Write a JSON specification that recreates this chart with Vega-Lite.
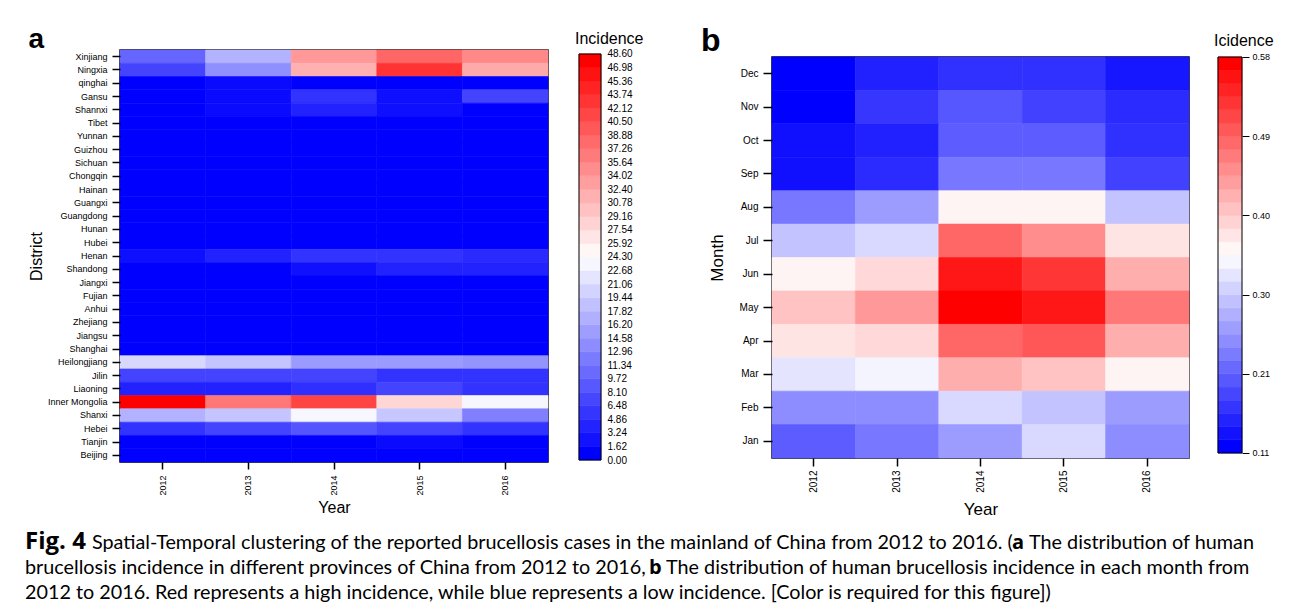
{
  "$schema": "https://vega.github.io/schema/vega-lite/v6.json",
  "background": "white",
  "padding": {"left": 25, "top": 24, "right": 5, "bottom": 2},
  "datasets": {
    "prov": [
      {"district": "Xinjiang", "year": "2012", "value": 9.7}, {"district": "Xinjiang", "year": "2013", "value": 17.0}, {"district": "Xinjiang", "year": "2014", "value": 34.0}, {"district": "Xinjiang", "year": "2015", "value": 38.9}, {"district": "Xinjiang", "year": "2016", "value": 35.6},
      {"district": "Ningxia", "year": "2012", "value": 6.5}, {"district": "Ningxia", "year": "2013", "value": 13.6}, {"district": "Ningxia", "year": "2014", "value": 31.8}, {"district": "Ningxia", "year": "2015", "value": 43.7}, {"district": "Ningxia", "year": "2016", "value": 32.4},
      {"district": "qinghai", "year": "2012", "value": 0}, {"district": "qinghai", "year": "2013", "value": 1.0}, {"district": "qinghai", "year": "2014", "value": 0}, {"district": "qinghai", "year": "2015", "value": 0}, {"district": "qinghai", "year": "2016", "value": 0},
      {"district": "Gansu", "year": "2012", "value": 0}, {"district": "Gansu", "year": "2013", "value": 1.0}, {"district": "Gansu", "year": "2014", "value": 4.9}, {"district": "Gansu", "year": "2015", "value": 1.4}, {"district": "Gansu", "year": "2016", "value": 6.5},
      {"district": "Shannxi", "year": "2012", "value": 0}, {"district": "Shannxi", "year": "2013", "value": 1.0}, {"district": "Shannxi", "year": "2014", "value": 3.2}, {"district": "Shannxi", "year": "2015", "value": 1.4}, {"district": "Shannxi", "year": "2016", "value": 0},
      {"district": "Tibet", "year": "2012", "value": 0}, {"district": "Tibet", "year": "2013", "value": 0}, {"district": "Tibet", "year": "2014", "value": 0}, {"district": "Tibet", "year": "2015", "value": 0}, {"district": "Tibet", "year": "2016", "value": 0},
      {"district": "Yunnan", "year": "2012", "value": 0}, {"district": "Yunnan", "year": "2013", "value": 0}, {"district": "Yunnan", "year": "2014", "value": 0}, {"district": "Yunnan", "year": "2015", "value": 0}, {"district": "Yunnan", "year": "2016", "value": 0},
      {"district": "Guizhou", "year": "2012", "value": 0}, {"district": "Guizhou", "year": "2013", "value": 0}, {"district": "Guizhou", "year": "2014", "value": 0}, {"district": "Guizhou", "year": "2015", "value": 0}, {"district": "Guizhou", "year": "2016", "value": 0},
      {"district": "Sichuan", "year": "2012", "value": 0}, {"district": "Sichuan", "year": "2013", "value": 0}, {"district": "Sichuan", "year": "2014", "value": 0}, {"district": "Sichuan", "year": "2015", "value": 0}, {"district": "Sichuan", "year": "2016", "value": 0},
      {"district": "Chongqin", "year": "2012", "value": 0}, {"district": "Chongqin", "year": "2013", "value": 0}, {"district": "Chongqin", "year": "2014", "value": 0}, {"district": "Chongqin", "year": "2015", "value": 0}, {"district": "Chongqin", "year": "2016", "value": 0},
      {"district": "Hainan", "year": "2012", "value": 0}, {"district": "Hainan", "year": "2013", "value": 0}, {"district": "Hainan", "year": "2014", "value": 0}, {"district": "Hainan", "year": "2015", "value": 0}, {"district": "Hainan", "year": "2016", "value": 0},
      {"district": "Guangxi", "year": "2012", "value": 0}, {"district": "Guangxi", "year": "2013", "value": 0}, {"district": "Guangxi", "year": "2014", "value": 0}, {"district": "Guangxi", "year": "2015", "value": 0}, {"district": "Guangxi", "year": "2016", "value": 0},
      {"district": "Guangdong", "year": "2012", "value": 0}, {"district": "Guangdong", "year": "2013", "value": 0}, {"district": "Guangdong", "year": "2014", "value": 0}, {"district": "Guangdong", "year": "2015", "value": 0}, {"district": "Guangdong", "year": "2016", "value": 0},
      {"district": "Hunan", "year": "2012", "value": 0}, {"district": "Hunan", "year": "2013", "value": 0}, {"district": "Hunan", "year": "2014", "value": 0}, {"district": "Hunan", "year": "2015", "value": 0}, {"district": "Hunan", "year": "2016", "value": 0},
      {"district": "Hubei", "year": "2012", "value": 0}, {"district": "Hubei", "year": "2013", "value": 0}, {"district": "Hubei", "year": "2014", "value": 0}, {"district": "Hubei", "year": "2015", "value": 0}, {"district": "Hubei", "year": "2016", "value": 0},
      {"district": "Henan", "year": "2012", "value": 1.4}, {"district": "Henan", "year": "2013", "value": 3.2}, {"district": "Henan", "year": "2014", "value": 4.9}, {"district": "Henan", "year": "2015", "value": 4.9}, {"district": "Henan", "year": "2016", "value": 4.0},
      {"district": "Shandong", "year": "2012", "value": 0}, {"district": "Shandong", "year": "2013", "value": 0}, {"district": "Shandong", "year": "2014", "value": 1.5}, {"district": "Shandong", "year": "2015", "value": 3.2}, {"district": "Shandong", "year": "2016", "value": 3.2},
      {"district": "Jiangxi", "year": "2012", "value": 0}, {"district": "Jiangxi", "year": "2013", "value": 0}, {"district": "Jiangxi", "year": "2014", "value": 0}, {"district": "Jiangxi", "year": "2015", "value": 0}, {"district": "Jiangxi", "year": "2016", "value": 0},
      {"district": "Fujian", "year": "2012", "value": 0}, {"district": "Fujian", "year": "2013", "value": 0}, {"district": "Fujian", "year": "2014", "value": 0}, {"district": "Fujian", "year": "2015", "value": 0}, {"district": "Fujian", "year": "2016", "value": 0},
      {"district": "Anhui", "year": "2012", "value": 0}, {"district": "Anhui", "year": "2013", "value": 0}, {"district": "Anhui", "year": "2014", "value": 0}, {"district": "Anhui", "year": "2015", "value": 0}, {"district": "Anhui", "year": "2016", "value": 0},
      {"district": "Zhejiang", "year": "2012", "value": 0}, {"district": "Zhejiang", "year": "2013", "value": 0}, {"district": "Zhejiang", "year": "2014", "value": 0}, {"district": "Zhejiang", "year": "2015", "value": 0}, {"district": "Zhejiang", "year": "2016", "value": 0},
      {"district": "Jiangsu", "year": "2012", "value": 0}, {"district": "Jiangsu", "year": "2013", "value": 0}, {"district": "Jiangsu", "year": "2014", "value": 0}, {"district": "Jiangsu", "year": "2015", "value": 0}, {"district": "Jiangsu", "year": "2016", "value": 0},
      {"district": "Shanghai", "year": "2012", "value": 0}, {"district": "Shanghai", "year": "2013", "value": 0}, {"district": "Shanghai", "year": "2014", "value": 0}, {"district": "Shanghai", "year": "2015", "value": 0}, {"district": "Shanghai", "year": "2016", "value": 0},
      {"district": "Heilongjiang", "year": "2012", "value": 20.6}, {"district": "Heilongjiang", "year": "2013", "value": 18.7}, {"district": "Heilongjiang", "year": "2014", "value": 14.8}, {"district": "Heilongjiang", "year": "2015", "value": 14.8}, {"district": "Heilongjiang", "year": "2016", "value": 14.1},
      {"district": "Jilin", "year": "2012", "value": 6.5}, {"district": "Jilin", "year": "2013", "value": 6.5}, {"district": "Jilin", "year": "2014", "value": 6.5}, {"district": "Jilin", "year": "2015", "value": 4.9}, {"district": "Jilin", "year": "2016", "value": 4.9},
      {"district": "Liaoning", "year": "2012", "value": 3.2}, {"district": "Liaoning", "year": "2013", "value": 3.2}, {"district": "Liaoning", "year": "2014", "value": 4.5}, {"district": "Liaoning", "year": "2015", "value": 6.5}, {"district": "Liaoning", "year": "2016", "value": 4.9},
      {"district": "Inner Mongolia", "year": "2012", "value": 48.6}, {"district": "Inner Mongolia", "year": "2013", "value": 37.3}, {"district": "Inner Mongolia", "year": "2014", "value": 42.1}, {"district": "Inner Mongolia", "year": "2015", "value": 28.2}, {"district": "Inner Mongolia", "year": "2016", "value": 23.4},
      {"district": "Shanxi", "year": "2012", "value": 17.0}, {"district": "Shanxi", "year": "2013", "value": 18.7}, {"district": "Shanxi", "year": "2014", "value": 23.5}, {"district": "Shanxi", "year": "2015", "value": 19.0}, {"district": "Shanxi", "year": "2016", "value": 12.2},
      {"district": "Hebei", "year": "2012", "value": 4.9}, {"district": "Hebei", "year": "2013", "value": 6.5}, {"district": "Hebei", "year": "2014", "value": 8.1}, {"district": "Hebei", "year": "2015", "value": 6.5}, {"district": "Hebei", "year": "2016", "value": 4.9},
      {"district": "Tianjin", "year": "2012", "value": 0}, {"district": "Tianjin", "year": "2013", "value": 0}, {"district": "Tianjin", "year": "2014", "value": 0}, {"district": "Tianjin", "year": "2015", "value": 1.0}, {"district": "Tianjin", "year": "2016", "value": 0},
      {"district": "Beijing", "year": "2012", "value": 0}, {"district": "Beijing", "year": "2013", "value": 0}, {"district": "Beijing", "year": "2014", "value": 0}, {"district": "Beijing", "year": "2015", "value": 0}, {"district": "Beijing", "year": "2016", "value": 0}
    ],
    "month": [
      {"month": "Dec", "year": "2012", "value": 0.11}, {"month": "Dec", "year": "2013", "value": 0.14}, {"month": "Dec", "year": "2014", "value": 0.155}, {"month": "Dec", "year": "2015", "value": 0.155}, {"month": "Dec", "year": "2016", "value": 0.13},
      {"month": "Nov", "year": "2012", "value": 0.11}, {"month": "Nov", "year": "2013", "value": 0.16}, {"month": "Nov", "year": "2014", "value": 0.19}, {"month": "Nov", "year": "2015", "value": 0.17}, {"month": "Nov", "year": "2016", "value": 0.15},
      {"month": "Oct", "year": "2012", "value": 0.125}, {"month": "Oct", "year": "2013", "value": 0.14}, {"month": "Oct", "year": "2014", "value": 0.195}, {"month": "Oct", "year": "2015", "value": 0.195}, {"month": "Oct", "year": "2016", "value": 0.155},
      {"month": "Sep", "year": "2012", "value": 0.125}, {"month": "Sep", "year": "2013", "value": 0.15}, {"month": "Sep", "year": "2014", "value": 0.22}, {"month": "Sep", "year": "2015", "value": 0.22}, {"month": "Sep", "year": "2016", "value": 0.17},
      {"month": "Aug", "year": "2012", "value": 0.22}, {"month": "Aug", "year": "2013", "value": 0.254}, {"month": "Aug", "year": "2014", "value": 0.355}, {"month": "Aug", "year": "2015", "value": 0.355}, {"month": "Aug", "year": "2016", "value": 0.29},
      {"month": "Jul", "year": "2012", "value": 0.29}, {"month": "Jul", "year": "2013", "value": 0.31}, {"month": "Jul", "year": "2014", "value": 0.486}, {"month": "Jul", "year": "2015", "value": 0.45}, {"month": "Jul", "year": "2016", "value": 0.37},
      {"month": "Jun", "year": "2012", "value": 0.355}, {"month": "Jun", "year": "2013", "value": 0.38}, {"month": "Jun", "year": "2014", "value": 0.56}, {"month": "Jun", "year": "2015", "value": 0.53}, {"month": "Jun", "year": "2016", "value": 0.42},
      {"month": "May", "year": "2012", "value": 0.40}, {"month": "May", "year": "2013", "value": 0.44}, {"month": "May", "year": "2014", "value": 0.58}, {"month": "May", "year": "2015", "value": 0.56}, {"month": "May", "year": "2016", "value": 0.47},
      {"month": "Apr", "year": "2012", "value": 0.37}, {"month": "Apr", "year": "2013", "value": 0.38}, {"month": "Apr", "year": "2014", "value": 0.486}, {"month": "Apr", "year": "2015", "value": 0.50}, {"month": "Apr", "year": "2016", "value": 0.42},
      {"month": "Mar", "year": "2012", "value": 0.32}, {"month": "Mar", "year": "2013", "value": 0.335}, {"month": "Mar", "year": "2014", "value": 0.42}, {"month": "Mar", "year": "2015", "value": 0.40}, {"month": "Mar", "year": "2016", "value": 0.355},
      {"month": "Feb", "year": "2012", "value": 0.24}, {"month": "Feb", "year": "2013", "value": 0.24}, {"month": "Feb", "year": "2014", "value": 0.31}, {"month": "Feb", "year": "2015", "value": 0.29}, {"month": "Feb", "year": "2016", "value": 0.254},
      {"month": "Jan", "year": "2012", "value": 0.195}, {"month": "Jan", "year": "2013", "value": 0.22}, {"month": "Jan", "year": "2014", "value": 0.254}, {"month": "Jan", "year": "2015", "value": 0.31}, {"month": "Jan", "year": "2016", "value": 0.24}
    ],
    "legA": [
      {"lo": 0, "hi": 1.62, "level": 0}, {"lo": 1.62, "hi": 3.24, "level": 1.676}, {"lo": 3.24, "hi": 4.86, "level": 3.352}, {"lo": 4.86, "hi": 6.48, "level": 5.028}, {"lo": 6.48, "hi": 8.1, "level": 6.703},
      {"lo": 8.1, "hi": 9.72, "level": 8.379}, {"lo": 9.72, "hi": 11.34, "level": 10.055}, {"lo": 11.34, "hi": 12.96, "level": 11.731}, {"lo": 12.96, "hi": 14.58, "level": 13.407}, {"lo": 14.58, "hi": 16.2, "level": 15.083},
      {"lo": 16.2, "hi": 17.82, "level": 16.759}, {"lo": 17.82, "hi": 19.44, "level": 18.434}, {"lo": 19.44, "hi": 21.06, "level": 20.11}, {"lo": 21.06, "hi": 22.68, "level": 21.786}, {"lo": 22.68, "hi": 24.3, "level": 23.462},
      {"lo": 24.3, "hi": 25.92, "level": 25.138}, {"lo": 25.92, "hi": 27.54, "level": 26.814}, {"lo": 27.54, "hi": 29.16, "level": 28.49}, {"lo": 29.16, "hi": 30.78, "level": 30.166}, {"lo": 30.78, "hi": 32.4, "level": 31.841},
      {"lo": 32.4, "hi": 34.02, "level": 33.517}, {"lo": 34.02, "hi": 35.64, "level": 35.193}, {"lo": 35.64, "hi": 37.26, "level": 36.869}, {"lo": 37.26, "hi": 38.88, "level": 38.545}, {"lo": 38.88, "hi": 40.5, "level": 40.221},
      {"lo": 40.5, "hi": 42.12, "level": 41.897}, {"lo": 42.12, "hi": 43.74, "level": 43.572}, {"lo": 43.74, "hi": 45.36, "level": 45.248}, {"lo": 45.36, "hi": 46.98, "level": 46.924}, {"lo": 46.98, "hi": 48.6, "level": 48.6}
    ],
    "legB": [
      {"lo": 0.11, "hi": 0.1257, "level": 0.11}, {"lo": 0.1257, "hi": 0.1413, "level": 0.1262}, {"lo": 0.1413, "hi": 0.157, "level": 0.1424}, {"lo": 0.157, "hi": 0.1727, "level": 0.1586}, {"lo": 0.1727, "hi": 0.1883, "level": 0.1748},
      {"lo": 0.1883, "hi": 0.204, "level": 0.191}, {"lo": 0.204, "hi": 0.2197, "level": 0.2072}, {"lo": 0.2197, "hi": 0.2353, "level": 0.2234}, {"lo": 0.2353, "hi": 0.251, "level": 0.2397}, {"lo": 0.251, "hi": 0.2667, "level": 0.2559},
      {"lo": 0.2667, "hi": 0.2823, "level": 0.2721}, {"lo": 0.2823, "hi": 0.298, "level": 0.2883}, {"lo": 0.298, "hi": 0.3137, "level": 0.3045}, {"lo": 0.3137, "hi": 0.3293, "level": 0.3207}, {"lo": 0.3293, "hi": 0.345, "level": 0.3369},
      {"lo": 0.345, "hi": 0.3607, "level": 0.3531}, {"lo": 0.3607, "hi": 0.3763, "level": 0.3693}, {"lo": 0.3763, "hi": 0.392, "level": 0.3855}, {"lo": 0.392, "hi": 0.4077, "level": 0.4017}, {"lo": 0.4077, "hi": 0.4233, "level": 0.4179},
      {"lo": 0.4233, "hi": 0.439, "level": 0.4341}, {"lo": 0.439, "hi": 0.4547, "level": 0.4503}, {"lo": 0.4547, "hi": 0.4703, "level": 0.4666}, {"lo": 0.4703, "hi": 0.486, "level": 0.4828}, {"lo": 0.486, "hi": 0.5017, "level": 0.499},
      {"lo": 0.5017, "hi": 0.5173, "level": 0.5152}, {"lo": 0.5173, "hi": 0.533, "level": 0.5314}, {"lo": 0.533, "hi": 0.5487, "level": 0.5476}, {"lo": 0.5487, "hi": 0.5643, "level": 0.5638}, {"lo": 0.5643, "hi": 0.58, "level": 0.58}
    ],
    "caption": [
      {"line": 1, "seg": "f", "text": "Fig. 4"},
      {"line": 1, "seg": "n1", "text": "Spatial-Temporal clustering of the reported brucellosis cases in the mainland of China from 2012 to 2016. ("},
      {"line": 1, "seg": "a", "text": "a"},
      {"line": 1, "seg": "n2", "text": "The distribution of human"},
      {"line": 2, "seg": "n0", "text": "brucellosis incidence in different provinces of China from 2012 to 2016,"},
      {"line": 2, "seg": "b", "text": "b"},
      {"line": 2, "seg": "n4", "text": "The distribution of human brucellosis incidence in each month from"},
      {"line": 3, "seg": "n0", "text": "2012 to 2016. Red represents a high incidence, while blue represents a low incidence. [Color is required for this figure])"}
    ]
  },
  "config": {
    "font": "Liberation Sans",
    "axis": {"labelFont": "Liberation Sans", "labelFontSize": 10, "labelColor": "#000000", "titleFont": "Liberation Sans", "titleFontSize": 16, "titleFontWeight": "normal", "titleColor": "#000000", "tickColor": "#000000", "tickWidth": 1.5, "grid": false, "domain": false},
    "title": {"font": "Liberation Sans", "color": "#000000"}
  },
  "resolve": {"scale": {"color": "independent", "stroke": "independent", "x": "independent", "y": "independent"}},
  "spacing": 12,
  "vconcat": [
    {
      "resolve": {"scale": {"color": "independent", "stroke": "independent", "x": "independent", "y": "independent"}},
      "spacing": 57,
      "hconcat": [
        {
          "resolve": {"scale": {"color": "independent", "stroke": "independent", "x": "independent", "y": "independent"}},
          "spacing": 25,
          "hconcat": [
            {
              "width": 428, "height": 412,
              "title": {"text": "a", "fontSize": 28, "fontWeight": "bold", "anchor": "start", "frame": "bounds", "baseline": "alphabetic", "offset": 0, "dy": 26},
              "view": {"stroke": "#000000", "strokeWidth": 1.5},
              "data": {"name": "prov"},
              "mark": {"type": "rect", "strokeWidth": 0.6},
              "encoding": {
                "x": {"field": "year", "type": "ordinal", "scale": {"paddingInner": 0, "paddingOuter": 0}, "axis": {"title": "Year", "labelAngle": 270, "labelFontSize": 9, "tickSize": 7, "labelPadding": 6, "titlePadding": 4}},
                "y": {"field": "district", "type": "ordinal", "sort": ["Xinjiang", "Ningxia", "qinghai", "Gansu", "Shannxi", "Tibet", "Yunnan", "Guizhou", "Sichuan", "Chongqin", "Hainan", "Guangxi", "Guangdong", "Hunan", "Hubei", "Henan", "Shandong", "Jiangxi", "Fujian", "Anhui", "Zhejiang", "Jiangsu", "Shanghai", "Heilongjiang", "Jilin", "Liaoning", "Inner Mongolia", "Shanxi", "Hebei", "Tianjin", "Beijing"], "scale": {"paddingInner": 0, "paddingOuter": 0}, "axis": {"title": "District", "labelFontSize": 9, "tickSize": 8, "labelPadding": 5, "titlePadding": 3}},
                "color": {"field": "value", "type": "quantitative", "scale": {"domain": [0, 24.3, 48.6], "range": ["#0000ff", "#ffffff", "#ff0000"], "interpolate": "rgb"}, "legend": null},
                "stroke": {"field": "value", "type": "quantitative", "scale": {"domain": [0, 24.3, 48.6], "range": ["#0000ff", "#ffffff", "#ff0000"], "interpolate": "rgb"}, "legend": null}
              }
            },
            {
              "width": 22, "height": 411,
              "title": {"text": "Incidence", "fontSize": 16, "fontWeight": "normal", "anchor": "start", "frame": "group", "baseline": "alphabetic", "dx": -4, "offset": 0, "dy": 11},
              "view": {"stroke": null},
              "layer": [
                {
                  "data": {"name": "legA"},
                  "mark": {"type": "rect", "strokeWidth": 0.6},
                  "encoding": {
                    "y": {"field": "lo", "type": "quantitative", "scale": {"domain": [-0.1197, 49.0788], "nice": false, "zero": false}, "axis": {"orient": "right", "title": null, "ticks": false, "labelPadding": 6, "format": ".2f", "values": [0, 1.62, 3.24, 4.86, 6.48, 8.1, 9.72, 11.34, 12.96, 14.58, 16.2, 17.82, 19.44, 21.06, 22.68, 24.3, 25.92, 27.54, 29.16, 30.78, 32.4, 34.02, 35.64, 37.26, 38.88, 40.5, 42.12, 43.74, 45.36, 46.98, 48.6], "labelFlush": false, "labelOverlap": false}},
                    "y2": {"field": "hi"},
                    "color": {"field": "level", "type": "quantitative", "scale": {"domain": [0, 24.3, 48.6], "range": ["#0000ff", "#ffffff", "#ff0000"], "interpolate": "rgb"}, "legend": null},
                    "stroke": {"field": "level", "type": "quantitative", "scale": {"domain": [0, 24.3, 48.6], "range": ["#0000ff", "#ffffff", "#ff0000"], "interpolate": "rgb"}, "legend": null}
                  }
                },
                {
                  "data": {"values": [{"frame": 1}]},
                  "mark": {"type": "rect", "fillOpacity": 0, "stroke": "#000000", "strokeWidth": 1},
                  "encoding": {
                    "y": {"datum": 0, "type": "quantitative", "axis": {"orient": "right", "title": null, "ticks": false, "labelPadding": 6, "format": ".2f", "values": [0, 1.62, 3.24, 4.86, 6.48, 8.1, 9.72, 11.34, 12.96, 14.58, 16.2, 17.82, 19.44, 21.06, 22.68, 24.3, 25.92, 27.54, 29.16, 30.78, 32.4, 34.02, 35.64, 37.26, 38.88, 40.5, 42.12, 43.74, 45.36, 46.98, 48.6], "labelFlush": false, "labelOverlap": false}},
                    "y2": {"datum": 48.6}
                  }
                }
              ]
            }
          ]
        },
        {
          "resolve": {"scale": {"color": "independent", "stroke": "independent", "x": "independent", "y": "independent"}},
          "spacing": 23,
          "hconcat": [
            {
              "resolve": {"scale": {"color": "independent", "stroke": "independent", "x": "independent", "y": "independent"}},
              "spacing": -5,
              "vconcat": [
                {
                  "width": 417, "height": 1,
                  "title": {"text": "b", "fontSize": 32, "fontWeight": "bold", "anchor": "start", "frame": "bounds", "baseline": "alphabetic", "offset": 0, "dx": -71, "dy": 33},
                  "view": {"stroke": null},
                  "data": {"values": []},
                  "mark": {"type": "rect"},
                  "encoding": {}
                },
                {
                  "width": 417, "height": 401,
                  "view": {"stroke": "#000000", "strokeWidth": 1.5},
                  "data": {"name": "month"},
                  "mark": {"type": "rect", "strokeWidth": 0.6},
                  "encoding": {
                    "x": {"field": "year", "type": "ordinal", "scale": {"paddingInner": 0, "paddingOuter": 0}, "axis": {"title": "Year", "titleFontSize": 17, "labelAngle": 270, "tickSize": 8, "labelPadding": 4, "titlePadding": 9}},
                    "y": {"field": "month", "type": "ordinal", "sort": ["Dec", "Nov", "Oct", "Sep", "Aug", "Jul", "Jun", "May", "Apr", "Mar", "Feb", "Jan"], "scale": {"paddingInner": 0, "paddingOuter": 0}, "axis": {"title": "Month", "titleFontSize": 17, "tickSize": 9, "labelPadding": 5, "titlePadding": 13}},
                    "color": {"field": "value", "type": "quantitative", "scale": {"domain": [0.11, 0.345, 0.58], "range": ["#0000ff", "#ffffff", "#ff0000"], "interpolate": "rgb"}, "legend": null},
                    "stroke": {"field": "value", "type": "quantitative", "scale": {"domain": [0.11, 0.345, 0.58], "range": ["#0000ff", "#ffffff", "#ff0000"], "interpolate": "rgb"}, "legend": null}
                  }
                }
              ]
            },
            {
              "width": 24, "height": 404,
              "title": {"text": "Icidence", "fontSize": 16, "fontWeight": "normal", "anchor": "start", "frame": "group", "baseline": "alphabetic", "dx": -4, "offset": 0, "dy": 12},
              "view": {"stroke": null},
              "layer": [
                {
                  "data": {"name": "legB"},
                  "mark": {"type": "rect", "strokeWidth": 0.6},
                  "encoding": {
                    "y": {"field": "lo", "type": "quantitative", "scale": {"domain": [0.108813, 0.588308], "nice": false, "zero": false}, "axis": {"orient": "right", "title": null, "ticks": true, "tickSize": 7, "tickWidth": 1, "labelPadding": 3, "labelFontSize": 9, "values": [0.11, 0.204, 0.298, 0.392, 0.486, 0.58], "labelExpr": "datum.value < 0.15 ? '0.11' : datum.value < 0.25 ? '0.21' : datum.value < 0.35 ? '0.30' : datum.value < 0.44 ? '0.40' : datum.value < 0.53 ? '0.49' : '0.58'", "labelFlush": false, "labelOverlap": false}},
                    "y2": {"field": "hi"},
                    "color": {"field": "level", "type": "quantitative", "scale": {"domain": [0.11, 0.345, 0.58], "range": ["#0000ff", "#ffffff", "#ff0000"], "interpolate": "rgb"}, "legend": null},
                    "stroke": {"field": "level", "type": "quantitative", "scale": {"domain": [0.11, 0.345, 0.58], "range": ["#0000ff", "#ffffff", "#ff0000"], "interpolate": "rgb"}, "legend": null}
                  }
                },
                {
                  "data": {"values": [{"frame": 1}]},
                  "mark": {"type": "rect", "fillOpacity": 0, "stroke": "#000000", "strokeWidth": 1},
                  "encoding": {
                    "y": {"datum": 0.11, "type": "quantitative", "axis": {"orient": "right", "title": null, "ticks": true, "tickSize": 7, "tickWidth": 1, "labelPadding": 3, "labelFontSize": 9, "values": [0.11, 0.204, 0.298, 0.392, 0.486, 0.58], "labelExpr": "datum.value < 0.15 ? '0.11' : datum.value < 0.25 ? '0.21' : datum.value < 0.35 ? '0.30' : datum.value < 0.44 ? '0.40' : datum.value < 0.53 ? '0.49' : '0.58'", "labelFlush": false, "labelOverlap": false}},
                    "y2": {"datum": 0.58}
                  }
                }
              ]
            }
          ]
        }
      ]
    },
    {
      "width": 1150, "height": 74,
      "view": {"stroke": null},
      "data": {"name": "caption"},
      "encoding": {
        "x": {"datum": 0, "type": "quantitative", "scale": {"domain": [0, 1]}, "axis": null},
        "y": {"field": "line", "type": "ordinal", "scale": {"paddingInner": 0, "paddingOuter": 0}, "axis": null},
        "text": {"field": "text"}
      },
      "layer": [
        {"transform": [{"filter": "datum.seg == 'f'"}], "mark": {"type": "text", "align": "left", "baseline": "alphabetic", "font": "Open Sans", "fontSize": 24, "fontWeight": "bold", "dx": -95}},
        {"transform": [{"filter": "datum.seg == 'n0'"}], "mark": {"type": "text", "align": "left", "baseline": "alphabetic", "font": "Lato", "fontSize": 19.8, "dx": -95}},
        {"transform": [{"filter": "datum.seg == 'n1'"}], "mark": {"type": "text", "align": "left", "baseline": "alphabetic", "font": "Lato", "fontSize": 19.8, "dx": -28}},
        {"transform": [{"filter": "datum.seg == 'a'"}], "mark": {"type": "text", "align": "left", "baseline": "alphabetic", "font": "Open Sans", "fontSize": 20, "fontWeight": "bold", "dx": 892}},
        {"transform": [{"filter": "datum.seg == 'n2'"}], "mark": {"type": "text", "align": "left", "baseline": "alphabetic", "font": "Lato", "fontSize": 19.8, "dx": 909}},
        {"transform": [{"filter": "datum.seg == 'b'"}], "mark": {"type": "text", "align": "left", "baseline": "alphabetic", "font": "Open Sans", "fontSize": 20, "fontWeight": "bold", "dx": 529}},
        {"transform": [{"filter": "datum.seg == 'n4'"}], "mark": {"type": "text", "align": "left", "baseline": "alphabetic", "font": "Lato", "fontSize": 19.8, "dx": 546}}
      ]
    }
  ]
}
